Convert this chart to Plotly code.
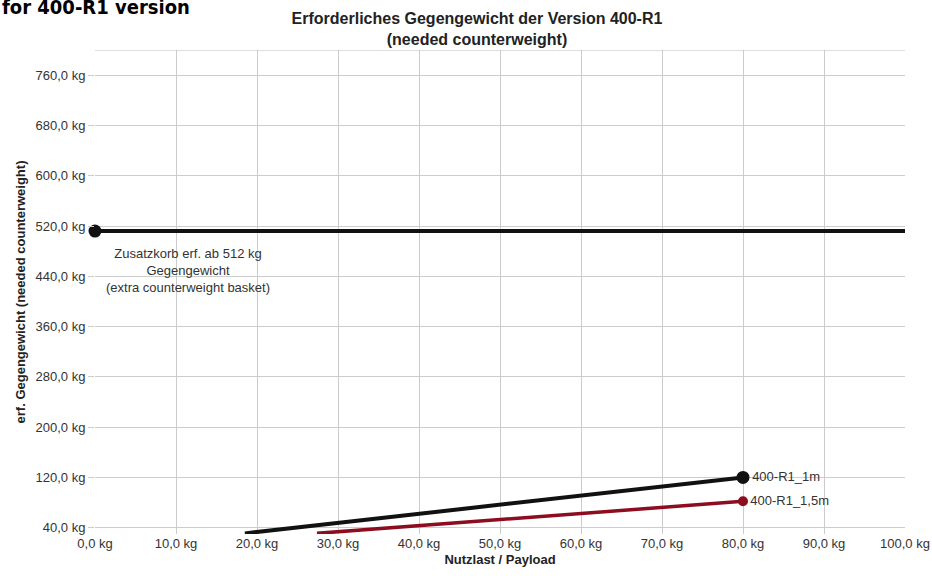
import plotly.graph_objects as go

# --- data ---
payload_1m = [18.5, 80]
weight_1m = [31, 120]
payload_15m = [27.4, 80]
weight_15m = [31, 82]
basket_x = [0, 100]
basket_y = [512, 512]

x_ticks = [0, 10, 20, 30, 40, 50, 60, 70, 80, 90, 100]
x_ticklabels = ["0,0 kg", "10,0 kg", "20,0 kg", "30,0 kg", "40,0 kg", "50,0 kg",
                "60,0 kg", "70,0 kg", "80,0 kg", "90,0 kg", "100,0 kg"]
y_ticks = [40, 120, 200, 280, 360, 440, 520, 600, 680, 760]
y_ticklabels = ["40,0 kg", "120,0 kg", "200,0 kg", "280,0 kg", "360,0 kg",
                "440,0 kg", "520,0 kg", "600,0 kg", "680,0 kg", "760,0 kg"]

FONT = "Liberation Sans, Arial, sans-serif"
TXT = "#333333"
L, R, T, B = 95, 27, 50, 42
PLOT_W = 932 - L - R
PLOT_H = 576 - T - B

fig = go.Figure()

# basket threshold line
fig.add_trace(go.Scatter(
    x=basket_x, y=basket_y, mode="lines+markers",
    line=dict(color="#111111", width=4),
    marker=dict(size=[13, 0], color="#111111", opacity=1, line=dict(width=0)),
    showlegend=False, hoverinfo="skip", cliponaxis=False))

# 400-R1_1,5m
fig.add_trace(go.Scatter(
    x=payload_15m, y=weight_15m, mode="lines+markers+text",
    line=dict(color="#8e0c1f", width=3.5),
    marker=dict(size=[0, 10], color="#8e0c1f", opacity=1, line=dict(width=0)),
    text=["", "400-R1_1,5m"], textposition="middle right",
    textfont=dict(family=FONT, size=13, color=TXT),
    showlegend=False, cliponaxis=False))

# 400-R1_1m
fig.add_trace(go.Scatter(
    x=payload_1m, y=weight_1m, mode="lines+markers+text",
    line=dict(color="#111111", width=4),
    marker=dict(size=[0, 13], color="#111111", opacity=1, line=dict(width=0)),
    text=["", "400-R1_1m"], textposition="middle right",
    textfont=dict(family=FONT, size=13, color=TXT),
    showlegend=False, cliponaxis=False))

fig.add_annotation(
    x=11.5, y=450, xref="x", yref="y",
    text="Zusatzkorb erf. ab 512 kg<br>Gegengewicht<br>(extra counterweight basket)",
    showarrow=False, font=dict(family=FONT, size=13, color=TXT), align="center")

# cropped heading at top-left
fig.add_annotation(
    x=-L / PLOT_W, y=1 + (T - 7) / PLOT_H, xref="paper", yref="paper",
    xanchor="left", yanchor="middle",
    text="<b>for 400-R1 version</b>", showarrow=False,
    font=dict(family="Liberation Sans Narrow, DejaVu Sans Condensed, Liberation Sans, sans-serif",
              size=20, color="#000000"))

# top border of the plot frame
fig.add_shape(type="line", xref="paper", yref="y", x0=0, x1=1, y0=800, y1=800,
              line=dict(color="#bbbbbb", width=1))

fig.update_layout(
    width=932, height=576,
    margin=dict(l=L, r=R, t=T, b=B, autoexpand=False),
    paper_bgcolor="white", plot_bgcolor="white",
    title=dict(text="<b>Erforderliches Gegengewicht der Version 400-R1<br>(needed counterweight)</b>",
               x=477 / 932, xanchor="center", y=1 - 24 / 576, yanchor="middle",
               font=dict(family=FONT, size=16, color="#222222")),
    font=dict(family=FONT, size=13, color=TXT),
)

fig.update_xaxes(
    range=[0, 100], tickvals=x_ticks, ticktext=x_ticklabels,
    showgrid=True, gridcolor="#cccccc", gridwidth=1, zeroline=False,
    showline=False, ticks="", automargin=False,
    tickfont=dict(family=FONT, size=13, color=TXT),
    title=dict(text="<b>Nutzlast / Payload</b>", font=dict(family=FONT, size=13, color="#222222"), standoff=4),
)
fig.update_yaxes(
    range=[30, 800], tickvals=y_ticks, ticktext=y_ticklabels,
    showgrid=True, gridcolor="#cccccc", gridwidth=1, zeroline=False,
    showline=False, ticks="outside", ticklen=6, tickcolor="#cccccc", automargin=False,
    tickfont=dict(family=FONT, size=13, color=TXT),
    title=dict(text="<b>erf. Gegengewicht (needed counterweight)</b>",
               font=dict(family=FONT, size=13, color="#222222"), standoff=6),
)

fig.write_html("out.html", config={"displayModeBar": False},
               post_script="document.body.style.margin='0';")
